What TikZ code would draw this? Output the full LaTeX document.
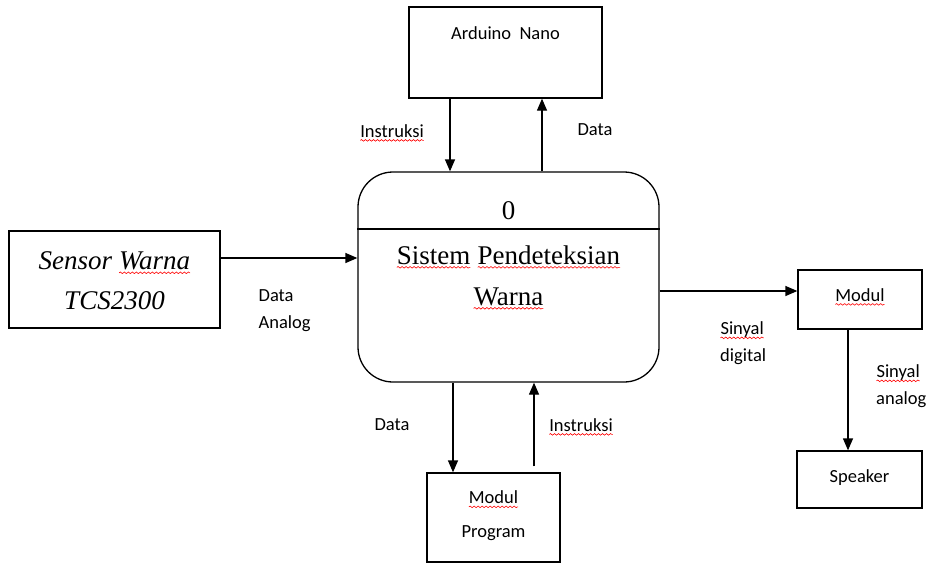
\documentclass[tikz,border=0pt]{standalone}
\usepackage{fontspec}
\setmainfont{Liberation Serif}
\newfontfamily\lab{Carlito}
\usetikzlibrary{arrows.meta,decorations.pathmorphing}
\newcommand\sq[1]{\tikz[baseline=(w.base)]{\node[inner sep=0pt,outer sep=0pt,draw=none,fill=none,rectangle,rounded corners=0pt,anchor=base,minimum size=0pt] (w) {#1};\draw[red,line width=0.6pt,decorate,decoration={snake,amplitude=0.8pt,segment length=4pt}] ([yshift=-3pt]w.base west) -- ([yshift=-3pt]w.base east);}}
\begin{document}
\begin{tikzpicture}[x=1pt,y=-1pt,line width=1.3pt,
  box/.style={draw,rectangle,inner sep=0pt},
  arr/.style={-{Triangle[length=12pt,width=10pt]}},
  lbl/.style={font=\lab\fontsize{18.5}{27}\selectfont,inner sep=0pt,align=left},
  ser/.style={font=\fontsize{27}{41}\selectfont,inner sep=0pt,align=center}]
\useasboundingbox (0,0) rectangle (926,563);
% boxes
\node[box,minimum width=193pt,minimum height=91pt] (ard) at (505.5,52.5) {};
\node[lbl] (ardt) at (505.5,33) {Arduino\ \ Nano};
\node[draw,rounded corners=35pt,minimum width=301pt,minimum height=210pt] (main) at (508.5,277) {};
\coordinate (dv) at (0,229);
\draw (main.west |- dv) -- (main.east |- dv);
\node[ser] (zero) at (508.5,211) {0};
\node[ser] (mt) at (508.5,277.5) {\sq{Sistem} \sq{Pendeteksian}\\\sq{Warna}};
\node[box,minimum width=211pt,minimum height=97pt] (sen) at (114.5,279.5) {};
\node[ser,font=\itshape\fontsize{27}{40}\selectfont] (sent) at (114.5,281) {Sensor \sq{Warna}\\TCS2300};
\node[box,minimum width=124pt,minimum height=59pt] (mod) at (860,299.5) {};
\node[lbl] (modt) at (860,297) {\sq{Modul}};
\node[box,minimum width=125pt,minimum height=57pt] (spk) at (859.5,479.5) {};
\node[lbl] (spkt) at (859.5,478) {Speaker};
\node[box,minimum width=133pt,minimum height=89pt] (prg) at (493.5,517.5) {};
\node[lbl,align=center,font=\lab\fontsize{18.5}{34}\selectfont] (prgt) at (493.5,516) {\sq{Modul}\\Program};
% connectors
\coordinate (c1) at (450,0);
\coordinate (c2) at (542,0);
\coordinate (c3) at (0,258);
\coordinate (c4) at (0,291);
\coordinate (c5) at (848,0);
\coordinate (c6) at (453,0);
\coordinate (c7) at (534,0);
\draw[arr] (ard.south -| c1) -- (main.north -| c1);
\draw[arr] (main.north -| c2) -- (ard.south -| c2);
\draw[arr] (sen.east |- c3) -- (main.west |- c3);
\draw[arr] (main.east |- c4) -- (mod.west |- c4);
\draw[arr] (mod.south -| c5) -- (spk.north -| c5);
\draw[arr] (main.south -| c6) -- (prg.north -| c6);
\draw[arr] ([yshift=6pt]prg.north -| c7) -- (main.south -| c7);
% labels
\node[lbl] (l1) at (392,133) {\sq{Instruksi}};
\node[lbl] (l2) at (595,130) {Data};
\node[lbl,anchor=west] (l3) at (258,311) {Data\\Analog};
\node[lbl,anchor=west] (l4) at (720,343.5) {\sq{Sinyal}\\digital};
\node[lbl,anchor=west] (l5) at (876,386.5) {\sq{Sinyal}\\analog};
\node[lbl] (l6) at (392,425) {Data};
\node[lbl] (l7) at (581,427) {\sq{Instruksi}};
\end{tikzpicture}
\end{document}
